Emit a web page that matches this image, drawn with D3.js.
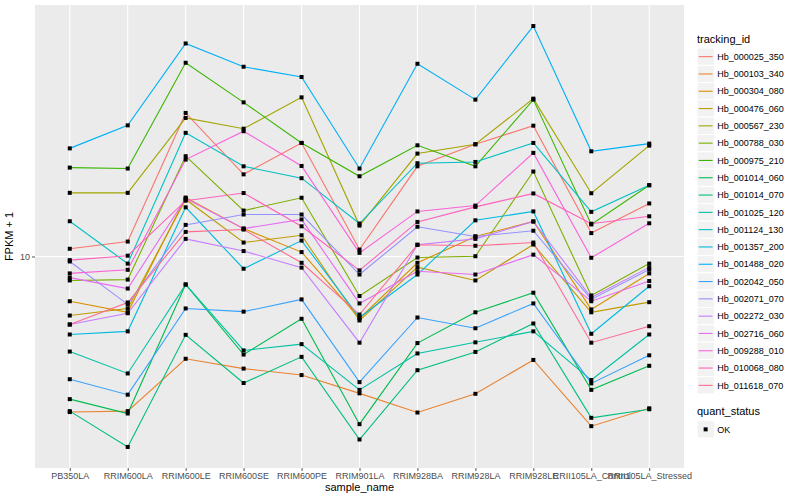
<!DOCTYPE html>
<html>
<head>
<meta charset="utf-8">
<script src="https://cdn.jsdelivr.net/npm/d3@7"></script>
<style>
  body { margin: 0; background: #fff; }
  svg { font-family: "Liberation Sans", Arial, Helvetica, sans-serif; }
</style>
</head>
<body>
<svg id="chart"></svg>
<script>
const samples = ["PB350LA", "RRIM600LA", "RRIM600LE", "RRIM600SE", "RRIM600PE", "RRIM901LA",
  "RRIM928BA", "RRIM928LA", "RRIM928LE", "RRII105LA_Control", "RRII105LA_Stressed"];

const trackingIds = ["Hb_000025_350", "Hb_000103_340", "Hb_000304_080", "Hb_000476_060",
  "Hb_000567_230", "Hb_000788_030", "Hb_000975_210", "Hb_001014_060", "Hb_001014_070",
  "Hb_001025_120", "Hb_001124_130", "Hb_001357_200", "Hb_001488_020", "Hb_002042_050",
  "Hb_002071_070", "Hb_002272_030", "Hb_002716_060", "Hb_009288_010", "Hb_010068_080",
  "Hb_011618_070"];

// FPKM + 1, one value per sample
const hb_000025_350 = [10.30, 10.59, 17.36, 13.71, 15.47, 10.27, 14.14, 15.39, 16.53, 10.94, 12.26];
const hb_000103_340 = [5.50, 5.52, 6.75, 6.50, 6.34, 5.91, 5.49, 5.90, 6.72, 5.21, 5.58];
const hb_000304_080 = [8.42, 8.07, 12.54, 11.13, 10.17, 7.88, 9.76, 10.80, 11.44, 8.16, 9.37];
const hb_000476_060 = [7.97, 8.19, 12.45, 10.55, 10.85, 7.82, 9.60, 9.12, 10.47, 8.07, 8.39];
const hb_000567_230 = [12.77, 12.77, 17.03, 16.34, 18.43, 11.26, 14.85, 15.39, 18.34, 12.75, 15.31];
const hb_000788_030 = [9.12, 9.15, 14.70, 11.93, 12.53, 8.59, 9.96, 10.01, 13.86, 8.61, 9.73];
const hb_000975_210 = [14.07, 14.02, 21.05, 18.08, 15.47, 13.61, 15.33, 14.14, 18.27, 11.31, 13.15];
const hb_001014_060 = [5.78, 5.47, 8.98, 6.86, 7.87, 5.25, 7.17, 8.07, 8.70, 5.99, 6.57];
const hb_001014_070 = [5.52, 4.81, 7.40, 6.15, 6.80, 4.95, 6.46, 6.93, 7.73, 5.38, 5.56];
const hb_001025_120 = [6.94, 6.38, 8.98, 6.97, 7.14, 5.99, 6.89, 7.19, 7.50, 6.22, 7.41];
const hb_001124_130 = [11.45, 9.73, 16.08, 14.14, 13.51, 11.35, 14.31, 14.38, 15.47, 11.87, 13.15];
const hb_001357_200 = [7.41, 7.50, 12.08, 9.54, 10.63, 7.91, 9.33, 11.49, 11.89, 7.43, 8.92];
const hb_001488_020 = [15.15, 16.55, 22.67, 20.73, 19.93, 14.02, 20.97, 18.27, 24.24, 14.98, 15.43];
const hb_002042_050 = [6.24, 5.88, 8.19, 8.09, 8.48, 6.17, 7.91, 7.59, 8.35, 6.14, 6.84];
const hb_002071_070 = [9.81, 8.32, 11.29, 11.75, 11.75, 9.33, 11.21, 10.80, 11.04, 8.48, 9.51];
const hb_002272_030 = [7.70, 8.04, 10.70, 10.21, 9.58, 7.18, 10.46, 10.70, 11.44, 8.54, 9.59];
const hb_002716_060 = [9.22, 8.84, 12.50, 11.13, 11.53, 8.35, 9.45, 9.33, 10.07, 8.42, 9.10];
const hb_009288_010 = [9.37, 9.50, 14.51, 16.18, 14.16, 10.14, 11.89, 12.16, 14.89, 9.95, 11.36];
const hb_010068_080 = [9.86, 10.03, 12.39, 12.76, 11.23, 9.48, 11.42, 12.10, 12.74, 11.34, 11.67];
const hb_011618_070 = [7.70, 8.38, 10.99, 11.09, 9.76, 8.00, 10.46, 10.42, 10.55, 7.18, 7.65];

const quantStatus = ["OK"];

const seriesValues = [hb_000025_350, hb_000103_340, hb_000304_080, hb_000476_060, hb_000567_230,
  hb_000788_030, hb_000975_210, hb_001014_060, hb_001014_070, hb_001025_120, hb_001124_130,
  hb_001357_200, hb_001488_020, hb_002042_050, hb_002071_070, hb_002272_030, hb_002716_060,
  hb_009288_010, hb_010068_080, hb_011618_070];

// ggplot2 default hue palette for 20 levels
const palette = ["#F8766D", "#EA8331", "#D89000", "#C09B00", "#A3A500", "#7CAE00", "#39B600",
  "#00BB4E", "#00BF7D", "#00C1A3", "#00BFC4", "#00BAE0", "#00B0F6", "#35A2FF", "#9590FF",
  "#C77CFF", "#E76BF3", "#FA62DB", "#FF62BC", "#FF6C91"];

const width = 800;
const height = 500;
const panel = { left: 35, right: 684, top: 5, bottom: 468 };

const series = trackingIds.map((id, i) => ({
  id: id,
  values: seriesValues[i].map((v, j) => ({ sample: samples[j], value: v }))
}));

const svg = d3.select("#chart")
  .attr("width", width)
  .attr("height", height);

const x = d3.scalePoint()
  .domain(samples)
  .range([panel.left, panel.right])
  .padding(0.6);

// log scale, 5% expansion like ggplot
const allValues = seriesValues.flat();
const lo = Math.log10(d3.min(allValues));
const hi = Math.log10(d3.max(allValues));
const pad = (hi - lo) * 0.05;
const y = d3.scaleLog()
  .domain([Math.pow(10, lo - pad), Math.pow(10, hi + pad)])
  .range([panel.bottom, panel.top]);

const color = d3.scaleOrdinal()
  .domain(trackingIds)
  .range(palette);

// --- Panel ---
svg.append("rect")
  .attr("x", panel.left)
  .attr("y", panel.top)
  .attr("width", panel.right - panel.left)
  .attr("height", panel.bottom - panel.top)
  .attr("fill", "#EBEBEB");

const yTicks = [10];

svg.append("g")
  .selectAll("line")
  .data(samples)
  .join("line")
  .attr("x1", d => x(d)).attr("x2", d => x(d))
  .attr("y1", panel.top).attr("y2", panel.bottom)
  .attr("stroke", "#fff")
  .attr("stroke-width", 1.1);

svg.append("g")
  .selectAll("line")
  .data(yTicks)
  .join("line")
  .attr("x1", panel.left).attr("x2", panel.right)
  .attr("y1", d => y(d)).attr("y2", d => y(d))
  .attr("stroke", "#fff")
  .attr("stroke-width", 1.1);

// --- Axes ---
const xAxis = svg.append("g")
  .attr("transform", `translate(0,${panel.bottom})`)
  .call(d3.axisBottom(x).tickSize(3).tickPadding(2));

const yAxis = svg.append("g")
  .attr("transform", `translate(${panel.left},0)`)
  .call(d3.axisLeft(y).tickValues(yTicks).tickFormat(d3.format("d")).tickSize(3).tickPadding(2));

[xAxis, yAxis].forEach(a => {
  a.select(".domain").remove();
  a.selectAll(".tick line").attr("stroke", "#555");
  a.selectAll(".tick text")
    .attr("fill", "#4D4D4D")
    .style("font-size", "9px")
    .style("font-family", "'Liberation Sans', Arial, sans-serif");
});

svg.append("text")
  .attr("x", (panel.left + panel.right) / 2)
  .attr("y", 491)
  .attr("text-anchor", "middle")
  .style("font-size", "11px")
  .text("sample_name");

svg.append("text")
  .attr("transform", `translate(13,${(panel.top + panel.bottom) / 2}) rotate(-90)`)
  .attr("text-anchor", "middle")
  .style("font-size", "11px")
  .text("FPKM + 1");

// --- Lines ---
const line = d3.line()
  .x(d => x(d.sample))
  .y(d => y(d.value));

svg.append("g")
  .selectAll("path")
  .data(series)
  .join("path")
  .attr("d", d => line(d.values))
  .attr("fill", "none")
  .attr("stroke", d => color(d.id))
  .attr("stroke-width", 1.1);

// --- Points ---
const pts = series.flatMap(s => s.values);
const ps = 4;
svg.append("g")
  .selectAll("rect")
  .data(pts)
  .join("rect")
  .attr("x", d => x(d.sample) - ps / 2)
  .attr("y", d => y(d.value) - ps / 2)
  .attr("width", ps)
  .attr("height", ps)
  .attr("fill", "#000");

// --- Legend ---
const legend = svg.append("g").attr("transform", "translate(697,0)");
const keySize = 17.3;

legend.append("text")
  .attr("x", 0).attr("y", 43)
  .style("font-size", "11px")
  .text("tracking_id");

const keys = legend.selectAll("g.key")
  .data(trackingIds)
  .join("g")
  .attr("class", "key")
  .attr("transform", (d, i) => `translate(0,${48 + i * keySize})`);

keys.append("rect")
  .attr("width", keySize).attr("height", keySize)
  .attr("fill", "#F2F2F2")
  .attr("stroke", "#fff")
  .attr("stroke-width", 1);

keys.append("line")
  .attr("x1", 1.7).attr("x2", keySize - 1.7)
  .attr("y1", keySize / 2).attr("y2", keySize / 2)
  .attr("stroke", d => color(d))
  .attr("stroke-width", 1.1);

keys.append("text")
  .attr("x", keySize + 3)
  .attr("y", keySize / 2 + 3.2)
  .style("font-size", "9px")
  .text(d => d);

legend.append("text")
  .attr("x", 0).attr("y", 415)
  .style("font-size", "11px")
  .text("quant_status");

const qKeys = legend.selectAll("g.qkey")
  .data(quantStatus)
  .join("g")
  .attr("class", "qkey")
  .attr("transform", (d, i) => `translate(0,${420.7 + i * keySize})`);

qKeys.append("rect")
  .attr("width", keySize).attr("height", keySize)
  .attr("fill", "#F2F2F2")
  .attr("stroke", "#fff");

qKeys.append("rect")
  .attr("x", keySize / 2 - 2).attr("y", keySize / 2 - 2)
  .attr("width", 4).attr("height", 4)
  .attr("fill", "#000");

qKeys.append("text")
  .attr("x", keySize + 3)
  .attr("y", keySize / 2 + 3.2)
  .style("font-size", "9px")
  .text(d => d);
</script>
</body>
</html>
